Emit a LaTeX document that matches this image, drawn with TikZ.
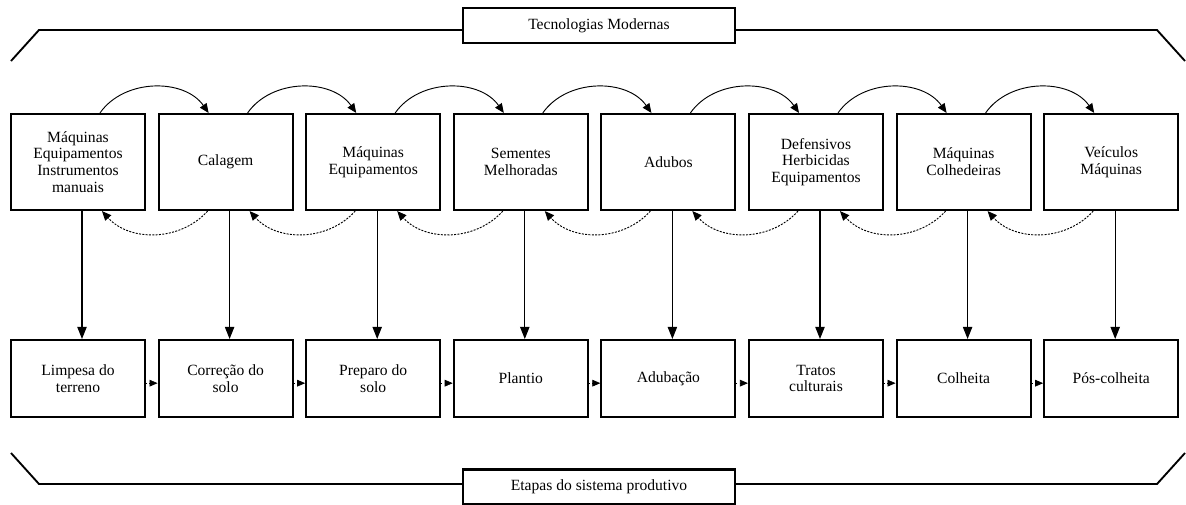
\documentclass[tikz,border=0pt]{standalone}
\usepackage{fontspec}
\setmainfont{Liberation Serif}
\usetikzlibrary{arrows.meta}
\tikzset{
  stage/.style={draw,line width=1.6pt,minimum width=100.5pt,align=center,inner sep=2pt,
    font=\rmfamily\fontsize{11.7}{12.6}\selectfont},
  techbox/.style={stage,minimum height=72pt},
  stepbox/.style={stage,minimum height=57.75pt},
  titlebox/.style={stage,minimum width=204pt,minimum height=26.25pt},
  bracket/.style={line width=1.4pt},
  feed/.style={-{Triangle[length=7pt,width=6pt]},line width=0.7pt},
  feedback/.style={feed,dash pattern=on 1.5pt off 1pt},
  supply/.style={-{Triangle[length=9pt,width=7pt]},line width=0.8pt},
  flow/.style={-{Triangle[length=6pt,width=5pt]},line width=0.5pt,dotted}
}
\begin{document}
\begin{tikzpicture}[x=0.75pt,y=-0.75pt]
  \useasboundingbox (0,0) rectangle (1186,504);

  % Tecnologias e etapas
  \foreach \i/\tec/\etapa in {
      1/{Máquinas\\Equipamentos\\Instrumentos\\manuais}/{Limpesa do\\terreno},
      2/{Calagem}/{Correção do\\solo},
      3/{Máquinas\\Equipamentos}/{Preparo do\\solo},
      4/{Sementes\\Melhoradas}/{Plantio},
      5/{Adubos}/{Adubação},
      6/{Defensivos\\Herbicidas\\Equipamentos}/{Tratos\\culturais},
      7/{Máquinas\\Colhedeiras}/{Colheita},
      8/{Veículos\\Máquinas}/{Pós-colheita}}
  {
    \node[techbox] (t\i) at ({78+147.6*(\i-1)},162) {\tec};
    \node[stepbox] (e\i) at ({78+147.6*(\i-1)},378.5) {\etapa};
  }

  % Ligacoes entre vizinhos
  \foreach \i [evaluate=\i as \j using int(\i+1)] in {1,...,7}
  {
    \draw[feed] ([xshift=16.5pt]t\i.north) to[bend left=55] ([xshift=-12.75pt]t\j.north);
    \draw[feedback] ([xshift=-13.5pt]t\j.south) to[bend left=48] ([xshift=18pt]t\i.south);
    \draw[flow] ([yshift=-3.5pt]e\i.east) -- ([yshift=-3.5pt]e\j.west);
  }
  \foreach \i in {1,...,8}
    \draw[supply] ([xshift=3pt]t\i.south) -- ([xshift=3pt]e\i.north);

  % Chaves
  \node[titlebox] (tec) at (599,25.5) {Tecnologias Modernas};
  \node[titlebox] (sis) at (599,487) {Etapas do sistema produtivo};
  \coordinate (a1) at (39,30);
  \coordinate (a2) at (1157,30);
  \draw[bracket] (11,61) -- (a1) -- (tec.west |- a1);
  \draw[bracket] (tec.east |- a2) -- (a2) -- (1185,61);
  \coordinate (b1) at (39,484);
  \coordinate (b2) at (1157,484);
  \draw[bracket] (11,453) -- (b1) -- (sis.west |- b1);
  \draw[bracket] (sis.east |- b2) -- (b2) -- (1185,453);
\end{tikzpicture}
\end{document}
